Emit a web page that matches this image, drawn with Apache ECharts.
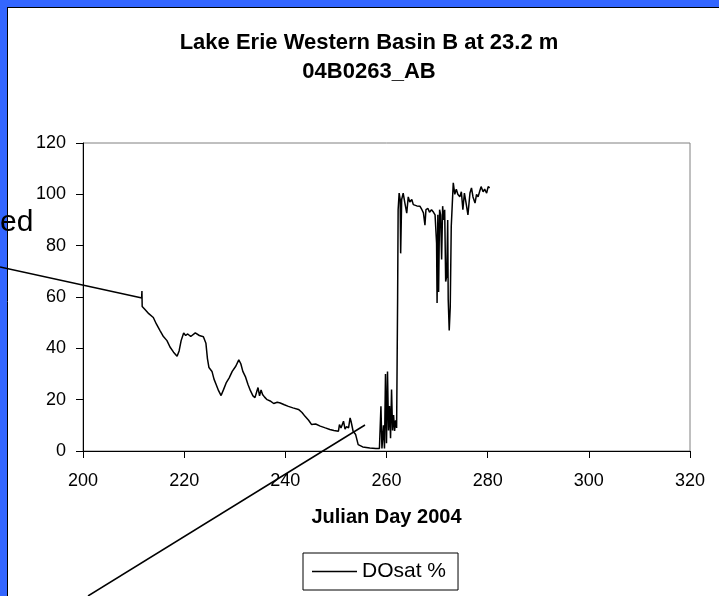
<!DOCTYPE html>
<html>
<head>
<meta charset="utf-8">
<title>Lake Erie Western Basin B</title>
<script src="https://cdn.jsdelivr.net/npm/echarts@6/dist/echarts.min.js"></script>
<style>
  html, body { margin: 0; padding: 0; background: #fff; }
  #main { width: 719px; height: 596px; }
</style>
</head>
<body>
<div id="main"></div>
<script>
/*
 * DO saturation, mooring 04B0263_AB
 */
var titleText = 'Lake Erie Western Basin B at 23.2 m\n04B0263_AB';
var xName = 'Julian Day 2004';
var seriesName = 'DOsat %';

var julianDay = [
  211.6, 211.65, 211.7, 212.3, 213.0, 213.9, 214.5, 215.2, 215.9, 216.6,
  217.2, 217.9, 218.6, 219.0, 219.4, 219.9, 220.3, 220.7, 221.3, 222.2,
  223.0, 223.8, 224.3, 224.6, 224.9, 225.5, 225.9, 226.3, 226.8, 227.3,
  227.8, 228.3, 228.9, 229.5, 230.2, 230.8, 231.2, 231.6, 232.1, 232.6,
  233.1, 233.6, 234.0, 234.4, 234.6, 234.9, 235.2, 235.5, 235.9, 236.4,
  237.0, 237.7, 238.4, 239.0, 239.8, 240.6, 241.5, 242.6, 243.3, 243.9,
  244.6, 245.2, 246.0, 246.9, 247.9, 248.8, 249.6, 250.5, 250.7, 251.0,
  251.5, 251.8, 252.1, 252.5, 252.8, 253.0, 253.4, 253.9, 254.4, 255.3,
  256.7, 257.9, 258.6, 258.9, 259.1, 259.4, 259.6, 259.8, 260.0, 260.2,
  260.4, 260.6, 260.8, 261.0, 261.2, 261.4, 261.6, 261.8, 262.0, 262.2,
  262.3, 262.5, 262.7, 262.8, 263.0, 263.3, 263.6, 264.0, 264.3, 264.6,
  265.0, 265.3, 265.6, 266.0, 266.6, 267.0, 267.3, 267.6, 267.8, 268.2,
  268.5, 268.9, 269.3, 269.6, 269.9, 270.0, 270.15, 270.3, 270.5, 270.7,
  270.9, 271.1, 271.3, 271.5, 271.7, 271.9, 272.1, 272.2, 272.4, 272.6,
  272.8, 273.0, 273.2, 273.5, 273.8, 274.1, 274.5, 274.8, 275.1, 275.4,
  275.7, 276.1, 276.5, 276.8, 277.1, 277.5, 277.8, 278.1, 278.4, 278.7,
  279.1, 279.4, 279.8, 280.1, 280.4
];

var doSat = [
  60, 62.3, 56.3, 55, 53.5, 52, 49.5, 47, 44.6, 43,
  40.5, 38.5, 36.9, 39, 43, 46, 45, 45.6, 44.6, 46,
  45, 44.5, 42, 36, 32.5, 31, 28, 26, 23.5, 21.6,
  24, 26.5, 28.5, 31, 33, 35.5, 34, 31, 29, 26,
  23.5, 21.5, 20.8, 23.5, 24.7, 21.5, 23.8, 22, 21, 20,
  19.5, 18.5, 19, 18.7, 18, 17.4, 16.8, 16.2, 15, 13.5,
  12, 10.3, 10.5, 9.7, 9, 8.4, 8, 7.7, 10.3, 9,
  11.6, 8.5, 9.5, 9, 12.9, 11.5, 7.7, 6.4, 2.5, 1.6,
  1.2, 1, 1, 17.4, 1, 10, 1, 30, 3, 31,
  8, 17.5, 5, 24, 8, 14, 7.8, 12, 9, 60,
  94, 100.5, 98, 77, 98, 100.5, 97, 92.7, 99, 97,
  98, 96, 96.7, 95.5, 95.4, 94, 92.8, 88, 94, 94.5,
  93, 94, 93, 92, 81, 57.7, 92, 62, 94, 92,
  74.6, 95.4, 90, 94, 66, 68, 90, 59, 47, 56,
  87.5, 96, 104.5, 100, 102, 100, 99, 101, 94, 100.5,
  97, 92, 100.5, 102.5, 99, 96.6, 100, 99, 101, 103,
  101, 102, 100.5, 103, 102.5
];

var convertData = function (xs, ys) {
  var res = [];
  for (var i = 0; i < xs.length; i++) {
    res.push([xs[i], ys[i]]);
  }
  return res;
};

var fontFam = "'Liberation Sans', Arial, sans-serif";
var slideBlue = '#3366ff';

var chart = echarts.init(document.getElementById('main'));

var option = {
  backgroundColor: '#ffffff',
  animation: false,
  title: {
    text: titleText,
    left: 369,
    top: 28,
    padding: 0,
    textAlign: 'center',
    textStyle: {
      fontFamily: fontFam,
      fontSize: 22,
      fontWeight: 'bold',
      color: '#000',
      lineHeight: 29
    }
  },
  legend: {
    left: 303,
    top: 553,
    padding: [8, 12, 8, 9],
    borderColor: '#000',
    borderWidth: 1,
    itemWidth: 45,
    itemHeight: 1.5,
    itemGap: 6,
    data: [{ name: seriesName, icon: 'rect' }],
    textStyle: { fontFamily: fontFam, fontSize: 21, color: '#000' }
  },
  grid: {
    left: 83,
    right: 29,
    top: 143,
    bottom: 145,
    show: true,
    borderColor: '#808080',
    borderWidth: 1,
    backgroundColor: 'transparent'
  },
  xAxis: {
    type: 'value',
    min: 200,
    max: 320,
    interval: 20,
    name: xName,
    nameLocation: 'middle',
    nameGap: 56,
    nameTextStyle: { fontFamily: fontFam, fontSize: 20, fontWeight: 'bold', color: '#000' },
    axisLine: { show: true, onZero: false, lineStyle: { color: '#000', width: 1 } },
    axisTick: { show: true, inside: false, length: 7, lineStyle: { color: '#000' } },
    axisLabel: { margin: 21, fontFamily: fontFam, fontSize: 18, color: '#000' },
    splitLine: { show: false }
  },
  yAxis: {
    type: 'value',
    min: 0,
    max: 120,
    interval: 20,
    axisLine: { show: true, lineStyle: { color: '#000', width: 1 } },
    axisTick: { show: true, inside: false, length: 7, lineStyle: { color: '#000' } },
    axisLabel: { margin: 17, fontFamily: fontFam, fontSize: 18, color: '#000' },
    splitLine: { show: false }
  },
  series: [{
    name: seriesName,
    type: 'line',
    data: convertData(julianDay, doSat),
    symbol: 'none',
    color: '#000',
    lineStyle: { color: '#000', width: 1.5 }
  }],
  graphic: [
    // slide frame
    { type: 'rect', left: 0, top: 0, shape: { width: 7, height: 596 }, style: { fill: slideBlue }, z: 100 },
    { type: 'rect', left: 0, top: 0, shape: { width: 719, height: 7 }, style: { fill: slideBlue }, z: 100 },
    { type: 'line', shape: { x1: 7.5, y1: 7, x2: 7.5, y2: 596 }, style: { stroke: '#000', lineWidth: 1 }, z: 101 },
    { type: 'line', shape: { x1: 7, y1: 7.5, x2: 719, y2: 7.5 }, style: { stroke: '#000', lineWidth: 1 }, z: 101 },
    // callouts from the slide
    { type: 'line', shape: { x1: 0, y1: 267, x2: 142, y2: 298 }, style: { stroke: '#000', lineWidth: 1.5 }, z: 102 },
    { type: 'line', shape: { x1: 88, y1: 596, x2: 365, y2: 425 }, style: { stroke: '#000', lineWidth: 1.5 }, z: 102 },
    { type: 'text', x: 0, y: 223, style: { text: 'ed', font: "30px 'Liberation Sans', Arial, sans-serif", fill: '#000', align: 'left', verticalAlign: 'middle' }, z: 103 }
  ]
};

chart.setOption(option);
</script>
</body>
</html>
